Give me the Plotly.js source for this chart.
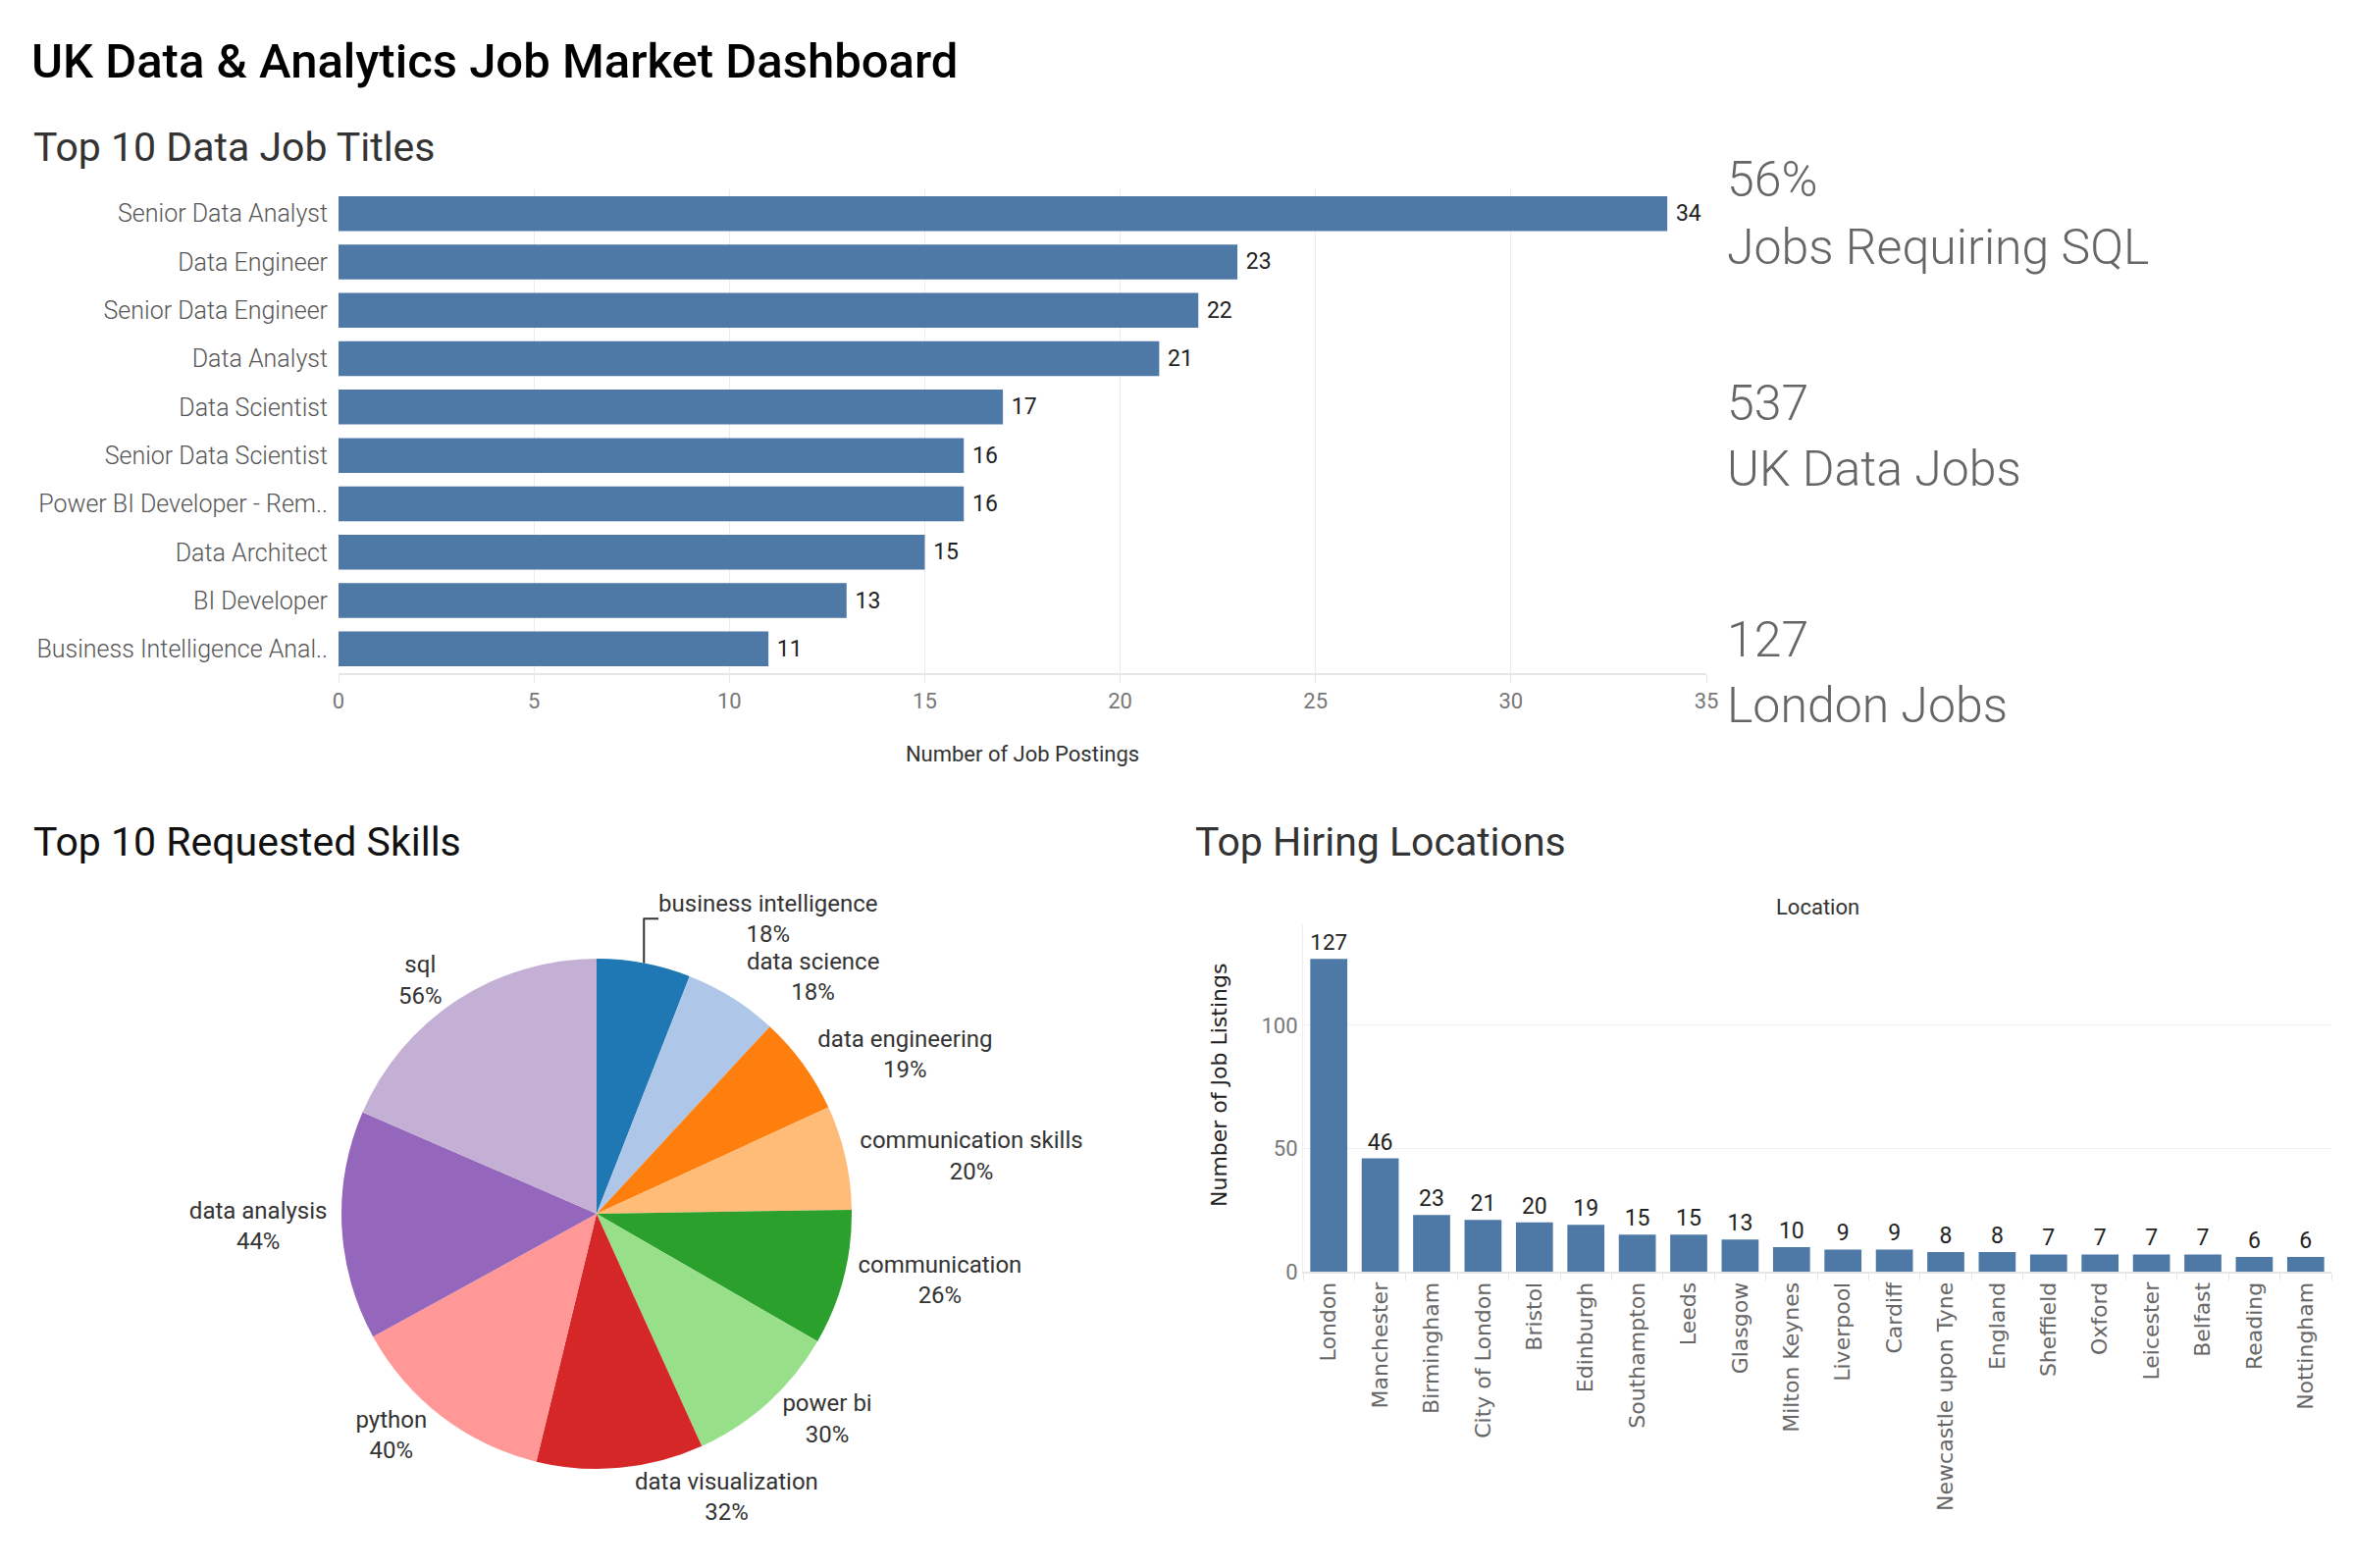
<!DOCTYPE html>
<html>
<head>
<meta charset="utf-8">
<script src="https://cdn.plot.ly/plotly-3.0.1.min.js"></script>
<style>html,body{margin:0;padding:0;background:#fff;}#chart{width:2398px;height:1598px;}</style>
</head>
<body>
<div id="chart"></div>
<script>
// ---------- DATA ----------
const jobTitles = ["Senior Data Analyst","Data Engineer","Senior Data Engineer","Data Analyst","Data Scientist","Senior Data Scientist","Power BI Developer - Rem..","Data Architect","BI Developer","Business Intelligence Anal.."];
const jobCounts = [34,23,22,21,17,16,16,15,13,11];

const skills = ["business intelligence","data science","data engineering","communication skills","communication","power bi","data visualization","python","data analysis","sql"];
const skillPct = [18,18,19,20,26,30,32,40,44,56];
const skillColors = ["#1f77b4","#aec7e8","#ff7f0e","#ffbb78","#2ca02c","#98df8a","#d62728","#ff9896","#9467bd","#c5b0d5"];

const locations = ["London","Manchester","Birmingham","City of London","Bristol","Edinburgh","Southampton","Leeds","Glasgow","Milton Keynes","Liverpool","Cardiff","Newcastle upon Tyne","England","Sheffield","Oxford","Leicester","Belfast","Reading","Nottingham"];
const locationCounts = [127,46,23,21,20,19,15,15,13,10,9,9,8,8,7,7,7,7,6,6];

const kpiValues = ["56%","537","127"];
const kpiLabels = ["Jobs Requiring SQL","UK Data Jobs","London Jobs"];

// ---------- LAYOUT HELPERS ----------
const W = 2398, H = 1598;
const fx = p => p / W;
const fy = p => 1 - p / H;
const FONT = "Roboto, 'Noto Sans', sans-serif";
const BAR = "#4e79a7";

const traces = [
  {
    type: "bar", orientation: "h",
    x: jobCounts, y: jobTitles,
    marker: {color: BAR},
    text: jobCounts.map(v => " " + v), textposition: "outside",
    textfont: {family: FONT, size: 23, color: "#222"},
    cliponaxis: false, hoverinfo: "skip",
    xaxis: "x", yaxis: "y"
  },
  {
    type: "pie",
    labels: skills, values: skillPct,
    text: skillPct.map(v => v + "%"),
    texttemplate: "%{label}<br>%{text}",
    textposition: "outside",
    textfont: {family: FONT, size: 24, color: "#333"},
    marker: {colors: skillColors, line: {width: 0}},
    sort: false, direction: "clockwise", rotation: 0,
    showlegend: false, hoverinfo: "skip",
    domain: {x: [fx(348), fx(868)], y: [fy(1497), fy(977)]}
  },
  {
    type: "bar",
    x: locations, y: locationCounts,
    marker: {color: BAR},
    text: locationCounts.map(String), textposition: "outside",
    textfont: {family: FONT, size: 23, color: "#222"},
    cliponaxis: false, hoverinfo: "skip",
    xaxis: "x2", yaxis: "y2"
  }
];

function ann(o) { return Object.assign({xref: "paper", yref: "paper", showarrow: false}, o); }

const annotations = [
  ann({text: "UK Data & Analytics Job Market Dashboard", x: fx(30), y: fy(62), xanchor: "left", yanchor: "middle",
   font: {family: FONT, size: 49, color: "#000", weight: 500}}),
  ann({text: "Top 10 Data Job Titles", x: fx(32), y: fy(150), xanchor: "left", yanchor: "middle",
   font: {family: FONT, size: 41, color: "#333", weight: 400}}),
  ann({text: "Top 10 Requested Skills", x: fx(32), y: fy(858), xanchor: "left", yanchor: "middle",
   font: {family: FONT, size: 41, color: "#111", weight: 400}}),
  ann({text: "Top Hiring Locations", x: fx(1216), y: fy(858), xanchor: "left", yanchor: "middle",
   font: {family: FONT, size: 41, color: "#333", weight: 400}}),
  ann({text: "Location", x: fx(1852), y: fy(924), xanchor: "center", yanchor: "middle",
   font: {family: FONT, size: 22, color: "#333"}}),
  ann({text: "Number of Job Listings", x: fx(1242), y: fy(1106), xanchor: "center", yanchor: "middle", textangle: -90,
   font: {family: "'DejaVu Sans', sans-serif", size: 22, color: "#222", weight: 400}})
];
const kpiY = [[183, 252], [411, 478], [652, 719]];
kpiValues.forEach((v, i) => {
  annotations.push(ann({text: v, x: fx(1758), y: fy(kpiY[i][0]), xanchor: "left", yanchor: "middle",
    font: {family: FONT, size: 50, color: "#666", weight: 300}}));
  annotations.push(ann({text: kpiLabels[i], x: fx(1758), y: fy(kpiY[i][1]), xanchor: "left", yanchor: "middle",
    font: {family: FONT, size: 50, color: "#666", weight: 300}}));
});

const layout = {
  width: W, height: H,
  margin: {l: 0, r: 0, t: 0, b: 0},
  paper_bgcolor: "#fff", plot_bgcolor: "#fff",
  showlegend: false,
  bargap: 0.28,
  font: {family: FONT, color: "#555"},
  xaxis: {
    domain: [fx(345), fx(1739)], anchor: "y",
    range: [0, 35], tickvals: [0,5,10,15,20,25,30,35],
    showgrid: true, gridcolor: "#ececec", gridwidth: 1, zeroline: false,
    showline: true, linecolor: "#e6e6e6", linewidth: 2,
    ticks: "outside", ticklen: 8, tickcolor: "#e6e6e6",
    tickfont: {family: FONT, size: 22, color: "#777"},
    title: {text: "Number of Job Postings", standoff: 34, font: {family: FONT, size: 22, color: "#333"}},
    fixedrange: true
  },
  yaxis: {
    domain: [fy(686), fy(193)], anchor: "x",
    autorange: "reversed", type: "category",
    showgrid: false, showline: false, ticks: "", ticklabelstandoff: 10,
    tickfont: {family: FONT, size: 25, color: "#555", weight: 300},
    fixedrange: true
  },
  xaxis2: {
    domain: [fx(1328), fx(2376)], anchor: "y2", type: "category",
    tickangle: -90, tickson: "boundaries",
    ticks: "outside", ticklen: 7, tickcolor: "#e6e6e6",
    showline: true, linecolor: "#e6e6e6", linewidth: 2,
    showgrid: false,
    tickfont: {family: "'DejaVu Sans', sans-serif", size: 22, color: "#666"},
    fixedrange: true
  },
  yaxis2: {
    domain: [fy(1296), fy(942)], anchor: "x2",
    range: [0, 141], tickvals: [0, 50, 100],
    showgrid: true, gridcolor: "#efefef", zeroline: false,
    showline: true, linecolor: "#eeeeee", linewidth: 1,
    ticks: "", tickfont: {family: FONT, size: 22, color: "#777"},
    fixedrange: true
  },
  annotations: annotations
};

Plotly.newPlot("chart", traces, layout, {displayModeBar: false, staticPlot: true});
</script>
</body>
</html>
